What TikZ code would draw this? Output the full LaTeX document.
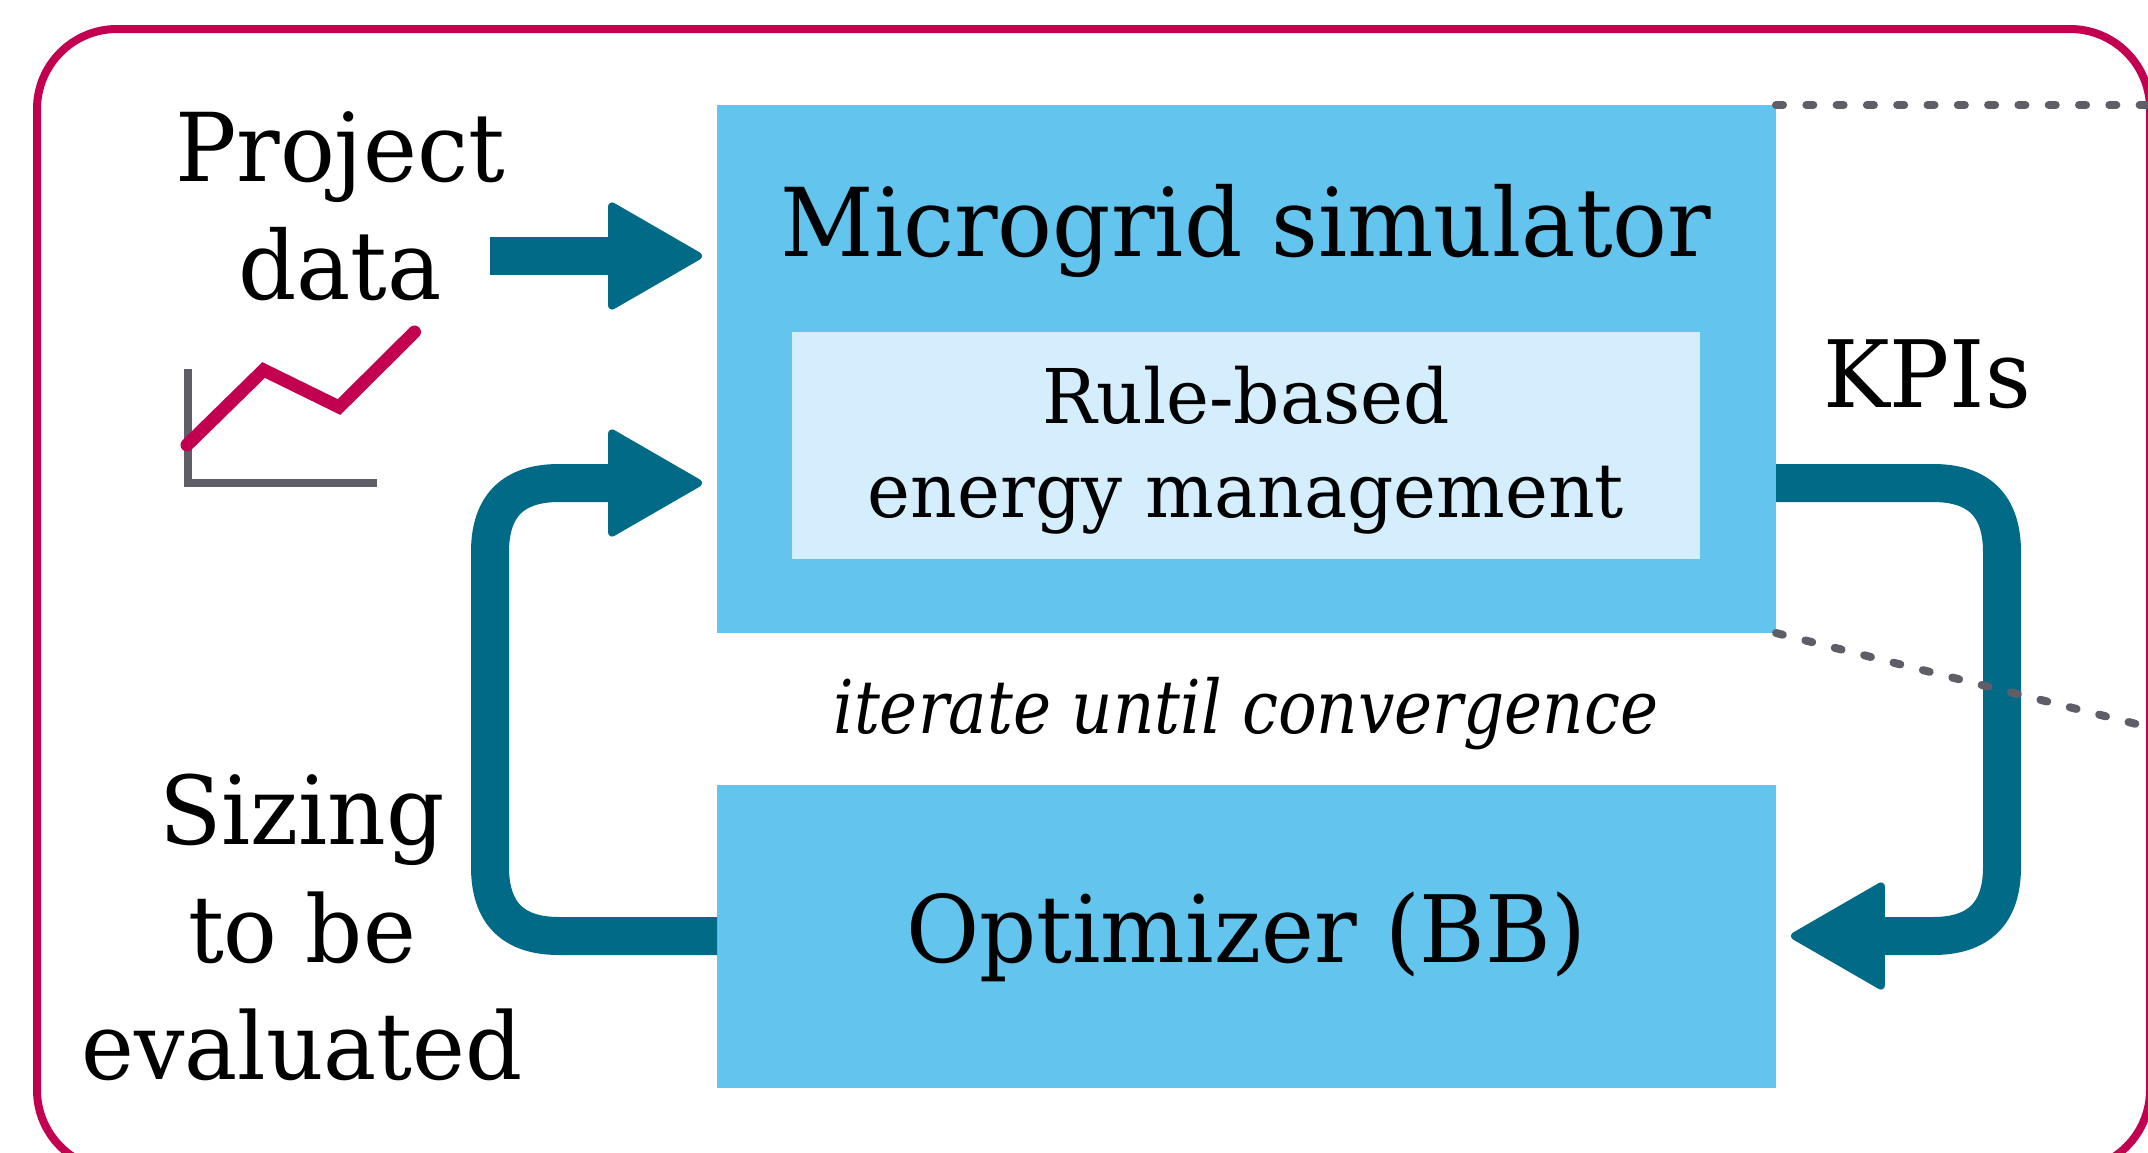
\documentclass[tikz,border=0pt]{standalone}
\usepackage{fontspec}
\setmainfont{DejaVu Serif}[FakeStretch=0.96]
\newfontfamily\iterfont{DejaVu Serif}[FakeStretch=0.87]
\usetikzlibrary{arrows.meta,calc}
\definecolor{crim}{HTML}{C2004F}
\definecolor{teal}{HTML}{006A87}
\definecolor{sky}{HTML}{63C4EE}
\definecolor{pale}{HTML}{D4EEFE}
\definecolor{slate}{HTML}{5F5E68}
\tikzset{
  x=1pt,y=-1pt,
  bluebox/.style={fill=sky,draw=none,inner sep=0pt,outer sep=0pt,minimum width=1059pt},
  flow/.style={draw=teal,line width=38pt,
    -{Triangle[length=98pt,width=111pt,line width=8pt,round,fill=teal,color=teal]},shorten >=15pt},
  zoomline/.style={draw=slate,line width=8pt,line cap=round,dash pattern=on 7pt off 23.3pt},
  lbl/.style={inner sep=0pt,outer sep=0pt,align=center,text=black},
}
\newcommand{\fsz}[1]{\fontsize{#1}{117}\selectfont}
\begin{document}
\begin{tikzpicture}
\useasboundingbox (0,0) rectangle (2148,1152);
\begin{scope}
\clip (0,0) rectangle (2148,1152);
\node[draw=crim,line width=8pt,rounded corners=80pt,inner sep=0pt,outer sep=0pt,minimum width=2113pt,minimum height=1141pt,anchor=north west] (frame) at (37,29) {};
\node[bluebox,minimum height=528pt,anchor=north west] (sim) at (717,105) {};
\node[bluebox,minimum height=303pt,anchor=north west] (opt) at (717,785) {};
\node[fill=pale,inner sep=0pt,outer sep=0pt,minimum width=908pt,minimum height=227pt,anchor=north west] (ems) at (792,332) {};
\node[lbl,anchor=base] (tsim) at (1246,256) {\fsz{95}Microgrid simulator};
\node[lbl,anchor=base] (tems1) at (1246,423) {\fsz{75.5}Rule-based};
\node[lbl,anchor=base] (tems2) at (1246,517) {\fsz{75.5}energy management};
\node[lbl,anchor=base] (topt) at (1246,962) {\fsz{93}Optimizer (BB)};
\node[lbl,anchor=base] (titer) at (1246,733) {\fsz{74}\iterfont\itshape iterate until convergence};
\node[lbl,anchor=base] (tkpi) at (1927,407) {\fsz{93}KPIs};
\node[lbl,anchor=base] (tproj1) at (340,181) {\fsz{95}Project};
\node[lbl,anchor=base] (tproj2) at (340,299) {\fsz{95}data};
\node[lbl,anchor=base] (tsiz1) at (302,844) {\fsz{95}Sizing};
\node[lbl,anchor=base] (tsiz2) at (302,962) {\fsz{93}to be};
\node[lbl,anchor=base] (tsiz3) at (302,1079) {\fsz{93}evaluated};
\coordinate (dataout) at (490,256);
\coordinate (simdata) at (717,256);
\coordinate (simin) at (717,483);
\coordinate (simout) at (1776,483);
\coordinate (optin) at (1776,936);
\coordinate (optout) at (717,936);
\coordinate (cbl) at (490,936);
\coordinate (ctl) at (490,483);
\coordinate (ctr) at (2002,483);
\coordinate (cbr) at (2002,936);
\draw[flow] (dataout) -- (simdata);
\draw[flow] (optout) -- ($(cbl)+(69,0)$) .. controls ($(cbl)+(23,0)$) and ($(cbl)+(0,-23)$) .. ($(cbl)+(0,-69)$)
  -- ($(ctl)+(0,69)$) .. controls ($(ctl)+(0,23)$) and ($(ctl)+(23,0)$) .. ($(ctl)+(69,0)$) -- (simin);
\draw[flow] (simout) -- ($(ctr)+(-69,0)$) .. controls ($(ctr)+(-23,0)$) and ($(ctr)+(0,23)$) .. ($(ctr)+(0,69)$)
  -- ($(cbr)+(0,-69)$) .. controls ($(cbr)+(0,-23)$) and ($(cbr)+(-23,0)$) .. ($(cbr)+(-69,0)$) -- (optin);
\coordinate (zoomtop) at (2160,105);
\coordinate (zoombot) at (2160,730);
\draw[zoomline] (sim.north east) -- (zoomtop);
\draw[zoomline] (sim.south east) -- (zoombot);
\draw[draw=slate,line width=7.5pt] (188,369) -- (188,483) -- (377,483);
\draw[draw=crim,line width=13pt,line cap=round,miter limit=10] (187,445) -- (263.6,370) -- (339,407) -- (414.5,332);
\end{scope}
\end{tikzpicture}
\end{document}
